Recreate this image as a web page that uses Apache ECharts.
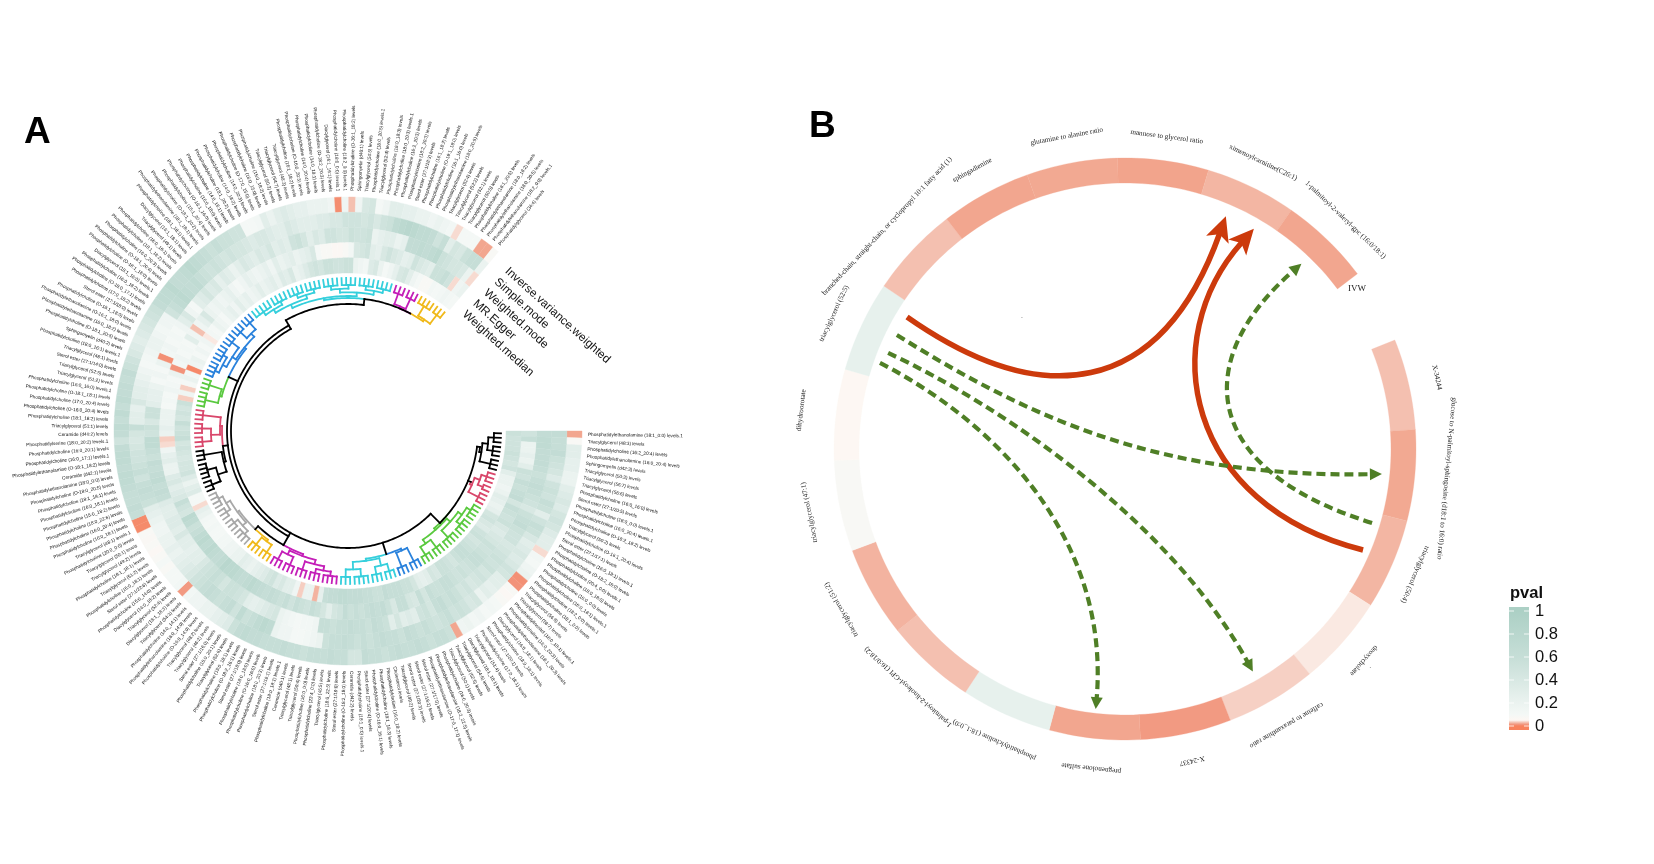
<!DOCTYPE html>
<html><head><meta charset="utf-8">
<style>html,body{margin:0;padding:0;background:#fff}#c{width:1654px;height:864px}</style>
<script src="https://cdn.jsdelivr.net/npm/echarts@6/dist/echarts.min.js"></script>
</head><body><div id="c"></div>
<script>
// ---------- Panel A data: lipid names (clockwise from 3 o'clock) ----------
const lipids = [
"Phosphatidylethanolamine (18:1_0:0) levels.1","Triacylglycerol (48:3) levels","Phosphatidylcholine (16:2_20:4) levels","Phosphatidylethanolamine (16:0_20:4) levels","Sphingomyelin (d42:3) levels","Triacylglycerol (50:3) levels","Triacylglycerol (56:7) levels","Triacylglycerol (56:6) levels","Phosphatidylcholine (16:0_16:0) levels","Sterol ester (27:1/20:5) levels",
"Phosphatidylcholine (18:0_0:0) levels.1","Phosphatidylcholine (16:0_20:4) levels.1","Phosphatidylcholine (O-18:2_18:2) levels","Triacylglycerol (50:2) levels","Phosphatidylcholine (O-16:1_20:4) levels","Sterol ester (27:1/17:1) levels","Phosphatidylcholine (16:0_18:1) levels.1","Phosphatidylcholine (O-18:2_16:0) levels","Phosphatidylcholine (20:4_0:0) levels.1","Phosphatidylcholine (18:0_18:0) levels",
"Phosphatidylcholine (16:0_0:0) levels","Phosphatidylcholine (16:0_18:1) levels.1","Phosphatidylcholine (18:2_0:0) levels.1","Phosphatidylcholine (18:1_0:0) levels","Triacylglycerol (56:8) levels","Triacylglycerol (58:7) levels","Phosphatidylinositol (16:0_18:1) levels.1","Phosphatidylcholine (16:0_20:3) levels","Phosphatidylethanolamine (18:1_20:3) levels","Diacylglycerol (16:0_18:1) levels",
"Phosphatidylcholine (18:0_18:1) levels","Sterol ester (27:1/20:1) levels","Phosphatidylcholine (17:0_18:1) levels","Triacylglycerol (51:4) levels","Diacylglycerol (18:1_18:1) levels","Triacylglycerol (54:6) levels","Triacylglycerol (52:5) levels","Triacylglycerol (50:1) levels","Phosphatidylcholine (16:0_20:3) levels","Phosphatidylethanolamine (18:2_22:5) levels",
"Phosphatidylethanolamine (O-17:0_17:1) levels","Sterol ester (27:1/17:0) levels","Sterol ester (27:1/18:2) levels","Sterol ester (27:1/20:3) levels","Triacylglycerol (49:2) levels","Cholesterol levels","Phosphatidylcholine (16:0_18:2) levels","Phosphatidylcholine (18:1_18:3) levels","Phosphatidylcholine (O-16:0_16:1) levels","Sterol ester (27:1/20:4) levels",
"Phosphatidylcholine (18:1_0:0) levels.1","Ceramide (d42:2) levels","Phosphatidylcholine (O-18:2_18:0) levels","Sterol ester (27:1/19:0) levels","Phosphatidylcholine (18:0_22:5) levels","Triacylglycerol (46:5) levels","Phosphatidylcholine (23:4_0:0) levels","Phosphatidylcholine (16:0_0:0) levels","Triacylglycerol (50:4) levels","Triacylglycerol (48:1) levels",
"Ceramide (d40:1) levels","Phosphatidylcholine (18:0_18:1) levels.1","Sterol ester (27:1/16:1) levels","Phosphatidylcholine (18:0_20:3) levels","Phosphatidylcholine (O-16:0_16:0) levels","Phosphatidylcholine (18:0_18:0) levels","Sterol ester (27:1/18:0) levels","Phosphatidylcholine (O-18:2_16:1) levels","Phosphatidylcholine (15:0_18:1) levels","Triacylglycerol (52:6) levels",
"Phosphatidylcholine (15:0_20:1) levels","Sterol ester (27:1/16:0) levels","Triacylglycerol (46:2) levels","Triacylglycerol (48:2) levels","Phosphatidylcholine (O-16:0_14:0) levels","Phosphatidylethanolamine (18:0_14:0) levels","Phosphatidylcholine (14:0_14:1) levels","Triacylglycerol (54:3) levels","Diacylglycerol (18:1_18:3) levels","Triacylglycerol (52:4) levels",
"Diacylglycerol (14:0_18:2) levels","Phosphatidylcholine (15:0_14:0) levels","Sterol ester (27:1/22:6) levels","Phosphatidylcholine (15:0_18:1) levels","Triacylglycerol (51:2) levels","Phosphatidylcholine (18:1_18:1) levels","Triacylglycerol (49:2) levels","Triacylglycerol (50:1) levels","Phosphatidylcholine (20:0_0:0) levels","Triacylglycerol (48:1) levels.1",
"Phosphatidylcholine (16:0_18:1) levels","Phosphatidylcholine (16:0_20:4) levels","Phosphatidylcholine (18:0_22:6) levels","Phosphatidylcholine (15:0_18:2) levels","Phosphatidylcholine (16:0_18:1) levels","Phosphatidylcholine (18:1_18:1) levels","Phosphatidylcholine (O-18:0_20:5) levels","Phosphatidylethanolamine (18:0_0:0) levels","Ceramide (d42:1) levels","Phosphatidylethanolamine (O-18:1_18:2) levels",
"Phosphatidylcholine (16:0_17:1) levels.1","Phosphatidylcholine (16:0_20:1) levels","Phosphatidylserine (18:0_20:2) levels.1","Ceramide (d40:2) levels","Triacylglycerol (51:1) levels","Phosphatidylcholine (18:1_18:2) levels","Phosphatidylcholine (O-16:0_20:4) levels","Phosphatidylcholine (17:0_20:4) levels","Phosphatidylcholine (O-18:1_18:1) levels","Phosphatidylcholine (16:0_16:0) levels.1",
"Triacylglycerol (51:2) levels","Triacylglycerol (52:5) levels","Sterol ester (27:1/14:0) levels","Triacylglycerol (48:1) levels","Phosphatidylcholine (18:0_16:1) levels.1","Sphingomyelin (d40:2) levels","Phosphatidylcholine (O-18:1_20:5) levels","Phosphatidylethanolamine (16:0_18:2) levels","Phosphatidylethanolamine (O-16:1_18:0) levels","Phosphatidylcholine (O-16:1_18:0) levels",
"Sterol ester (27:1/18:0) levels","Phosphatidylcholine (17:0_18:2) levels","Phosphatidylcholine (O-18:0_17:1) levels","Phosphatidylcholine (16:0_18:2) levels","Diacylglycerol (18:1_16:0) levels.1","Phosphatidylcholine (O-18:1_16:0) levels","Phosphatidylcholine (O-18:1_20:4) levels","Phosphatidylcholine (16:0_20:3) levels","Phosphatidylcholine (18:1_18:2) levels","Phosphatidylcholine (16:0_16:1) levels",
"Triacylglycerol (49:1) levels","Diacylglycerol (16:1_18:1) levels","Phosphatidylcholine (18:1_18:1) levels.1","Phosphatidylethanolamine (18:1_18:1) levels","Phosphatidylcholine (O-18:1_20:2) levels","Phosphatidylcholine (15:1_20:4) levels","Phosphatidylcholine (O-16:1_16:0) levels","Phosphatidylcholine (16:0_18:0) levels","Phosphatidylcholine (14:0_16:1) levels","Phosphatidylcholine (18:1_20:2) levels",
"Phosphatidylcholine (14:0_18:2) levels","Phosphatidylcholine (14:0_20:3) levels","Phosphatidylcholine (O-17:0_15:0) levels","Phosphatidylcholine (16:0_15:0) levels","Phosphatidylcholine (15:0_18:2) levels","Triacylglycerol (50:2) levels","Triacylglycerol (54:7) levels","Triacylglycerol (48:3) levels","Phosphatidylcholine (16:1_18:2) levels","Phosphatidylcholine (O-16:0_20:3) levels",
"Phosphatidylcholine (14:0_20:4) levels","Phosphatidylcholine (14:0_18:1) levels","Phosphatidylcholine (O-18:2_20:3) levels","Diacylglycerol (16:1_16:1) levels","Phosphatidylcholine (18:0_0:0) levels.1","Phosphatidylcholine (18:2_0:0) levels.1","Phosphatidylcholine (O-16:1_18:2) levels","Sphingomyelin (d40:1) levels","Triacylglycerol (54:5) levels","Phosphatidylcholine (18:0_20:5) levels.1",
"Triacylglycerol (52:4) levels","Phosphatidylcholine (16:0_18:3) levels","Phosphatidylcholine (18:0_20:3) levels.1","Phosphatidylcholine (16:2_20:3) levels","Phosphatidylcholine (18:2_20:3) levels","Sterol ester (27:1/18:3) levels","Phosphatidylcholine (16:1_18:2) levels","Phosphatidylcholine (O-16:1_18:0) levels","Phosphatidylcholine (16:1_16:0) levels","Phosphatidylethanolamine (18:0_20:5) levels",
"Triacylglycerol (52:4) levels","Triacylglycerol (52:2) levels","Triacylglycerol (52:1) levels","Triacylglycerol (50:0) levels","Phosphatidylcholine (18:1_20:5) levels","Phosphatidylethanolamine (18:0_18:2) levels","Phosphatidylethanolamine (18:0_20:5) levels","Phosphatidylethanolamine (18:2_0:0) levels.1","Phosphatidylglycerol (34:4) levels"
];
// p values per lipid, outer ring to inner ring
const ivw = [
.02,.08,.3,.3,.25,.25,.2,.2,.3,.35,
.4,.35,.45,.5,.45,.35,.3,.3,.04,.12,
.1,.15,.2,.01,.012,.08,.06,.08,.1,.12,
.1,.15,.12,.18,.15,.02,.55,.6,.6,.55,
.6,.65,.6,.6,.65,.6,.55,.6,.6,.65,
.45,.45,.6,.6,.65,.6,.6,.6,.55,.6,
.6,.65,.6,.6,.6,.65,.65,.7,.65,.55,
.35,.3,.25,.2,.2,.15,.15,.12,.015,.12,
.1,.1,.08,.1,.08,.06,.08,.07,.08,.006,
.006,.6,.65,.6,.6,.65,.7,.7,.65,.7,
.7,.65,.5,.65,.7,.6,.7,.6,.7,.65,
.65,.6,.65,.55,.5,.4,.35,.3,.35,.4,
.45,.5,.55,.65,.7,.7,.75,.65,.65,.7,
.75,.7,.65,.6,.55,.6,.55,.55,.5,.5,
.1,.1,.12,.3,.2,.3,.35,.3,.25,.25,
.2,.2,.2,.15,.008,.15,.03,.15,.4,.45,
.1,.15,.3,.3,.25,.25,.2,.2,.15,.2,
.15,.12,.04,.1,.1,.1,.02,.02,.08];
const simpleMode = [
.65,.6,.6,.65,.55,.5,.45,.35,.5,.55,
.5,.6,.55,.3,.5,.6,.55,.4,.3,.35,
.4,.35,.4,.5,.45,.3,.3,.25,.3,.2,
.45,.4,.5,.55,.5,.6,.55,.5,.55,.6,
.55,.6,.65,.55,.6,.6,.65,.6,.55,.6,
.55,.6,.65,.6,.6,.55,.2,.15,.12,.1,
.1,.15,.15,.2,.7,.75,.7,.6,.55,.7,
.5,.65,.6,.55,.6,.65,.6,.55,.5,.4,
.35,.3,.25,.2,.25,.2,.2,.15,.15,.2,
.25,.3,.55,.6,.65,.6,.5,.6,.55,.5,
.5,.45,.4,.45,.6,.3,.3,.25,.4,.3,
.3,.25,.2,.15,.1,.12,.15,.2,.2,.15,
.12,.15,.15,.5,.6,.7,.75,.7,.65,.7,
.6,.55,.5,.55,.5,.45,.5,.45,.45,.4,
.35,.4,.4,.35,.3,.3,.4,.35,.3,.3,
.3,.35,.35,.4,.4,.5,.5,.5,.45,.5,
.4,.5,.55,.7,.75,.8,.75,.7,.7,.65,
.5,.6,.3,.45,.4,.55,.6,.6,.2];
const weightedMode = [
.65,.7,.7,.65,.65,.65,.6,.55,.6,.65,
.6,.55,.5,.4,.55,.6,.65,.55,.5,.5,
.4,.45,.5,.55,.5,.55,.45,.5,.45,.4,
.5,.45,.55,.6,.55,.65,.6,.45,.55,.5,
.3,.35,.3,.45,.3,.55,.6,.65,.55,.6,
.6,.65,.6,.6,.55,.6,.6,.15,.12,.12,
.1,.12,.15,.2,.45,.4,.35,.3,.25,.3,
.45,.5,.55,.55,.45,.55,.6,.55,.5,.4,
.3,.3,.25,.3,.3,.4,.3,.35,.35,.3,
.3,.35,.6,.65,.6,.7,.65,.6,.65,.55,
.6,.7,.7,.5,.55,.4,.55,.55,.3,.25,
.25,.2,.1,.15,.1,.2,.01,.12,.15,.1,
.12,.1,.15,.3,.4,.15,.1,.3,.35,.45,
.35,.4,.25,.35,.3,.2,.3,.4,.35,.3,
.4,.35,.45,.3,.35,.3,.5,.55,.45,.3,
.4,.35,.5,.5,.45,.45,.55,.5,.5,.55,
.2,.25,.3,.3,.2,.25,.65,.65,.7,.65,
.7,.75,.55,.5,.45,.45,.4,.2,.04];
const mrEgger = [
.5,.6,.2,.2,.25,.2,.3,.55,.5,.6,
.55,.6,.65,.45,.6,.55,.5,.55,.4,.35,
.4,.45,.55,.5,.55,.6,.6,.55,.5,.55,
.5,.55,.6,.6,.55,.55,.6,.45,.6,.4,
.45,.6,.6,.4,.55,.65,.6,.65,.6,.55,
.6,.55,.65,.5,.45,.3,.45,.55,.6,.5,
.55,.6,.5,.6,.55,.6,.65,.6,.65,.7,
.75,.7,.65,.7,.75,.75,.8,.7,.65,.7,
.75,.7,.75,.7,.6,.55,.7,.75,.45,.5,
.6,.4,.35,.3,.4,.35,.2,.2,.3,.25,
.15,.04,.035,.2,.25,.2,.2,.2,.1,.12,
.1,.15,.12,.1,.2,.012,.12,.15,.1,.12,
.1,.3,.15,.03,.15,.25,.4,.2,.15,.2,
.15,.2,.25,.15,.1,.15,.25,.2,.15,.2,
.25,.15,.3,.2,.25,.3,.2,.25,.3,.4,
.1,.08,.08,.06,.06,.08,.12,.4,.45,.5,
.3,.25,.4,.5,.4,.35,.25,.3,.5,.4,
.35,.3,.55,.55,.6,.5,.04,.15,.2];
const weightedMedian = [
.55,.5,.5,.5,.55,.5,.45,.5,.3,.2,
.2,.15,.2,.3,.25,.2,.25,.45,.5,.4,
.35,.5,.55,.45,.5,.55,.6,.6,.55,.45,
.5,.55,.55,.4,.45,.3,.25,.3,.45,.55,
.55,.6,.6,.6,.65,.55,.55,.6,.6,.65,
.65,.65,.7,.7,.65,.65,.6,.25,.025,.2,
.2,.035,.15,.3,.3,.4,.35,.5,.45,.35,
.3,.25,.2,.25,.3,.2,.2,.15,.15,.12,
.12,.1,.1,.12,.1,.12,.2,.25,.04,.1,
.1,.35,.3,.2,.35,.5,.45,.45,.4,.45,
.5,.45,.6,.55,.5,.6,.45,.5,.45,.55,
.035,.15,.035,.1,.2,.12,.005,.15,.2,.1,
.15,.1,.15,.045,.12,.1,.2,.15,.1,.2,
.25,.15,.3,.2,.25,.15,.2,.3,.2,.25,
.3,.2,.35,.3,.4,.2,.25,.35,.45,.5,
.45,.55,.55,.5,.5,.55,.55,.2,.15,.12,
.35,.4,.2,.1,.15,.25,.4,.45,.3,.15,
.1,.08,.08,.12,.1,.12,.15,.12,.1];
const methodNames = ["Inverse.variance.weighted","Simple.mode","Weighted.mode","MR.Egger","Weighted.median"];
// tree clades: colour, tip groups, radius of the clade root, tip position where it joins the backbone
const cladeColors = ["#000000","#d9476b","#5ac93f","#2a82dc","#35cfdc","#c41fb8","#f0b91a","#a8a8a8","#000000","#d9476b","#5ac93f","#2a82dc","#35cfdc","#c41fb8","#f0b91a"];
const cladeGroups = [[3,3,3],[3,2,3],[4,4,4,3,3],[3,3],[3,3,4,3],[4,3,3,3,3],[3,3],[4,3,3,4],[3,4,3],[3,3,3],[4,3],[4,4,3,3,3],[5,4,4,4,4,4,4,4],[3,3],[4,3]];
const cladeRootHeight = [133,133,130,129,129,131,135,135,126,126,131,131,133,133,133];
const cladeJoin = [4,13,22,42,42,69,77,77,100,100,118,118,160,172,172];
// backbone of the tree: arcs [height, tipFrom, tipTo], stems [tip, heightFrom, heightTo]
const backboneArcs = [[130,4,26],[117,26,139],[121,69,139],[131,69,77],[127,139,160],[133,160,172]];
const backboneStems = [[4,130,133],[13,130,133],[26,117,130],[42,117,129],[69,117,131],[77,131,135],[100,121,126],[118,121,131],[139,117,127],[160,127,133]];

// ---------- Panel B data ----------
const metabolites = ["X-34244","glucose to N-palmitoyl-sphingosine (d18:1 to 16:0) ratio","triacylglycerol (50:4)","deoxycholate","caffeine to paraxanthine ratio","X-24337","pregnenolone sulfate","phosphatidylcholine (18:1_0:0)","1-palmitoyl-2-linoleoyl-GPI (16:0/18:2)","triacylglycerol (51:2)","triacylglycerol (47:1)","dihydroorotate","triacylglycerol (52:5)","branched-chain, straight-chain, or cyclopropyl 10:1 fatty acid (1)","sphingadienine","glutamine to alanine ratio","mannose to glycerol ratio","ximenoylcarnitine(C26:1)","1-palmitoyl-2-valeryl-gpc (16:0/18:1)"];
const metabolitePval = [.03,.021,.026,.045,.036,.015,.02,.24,.03,.025,.08,.052,.24,.03,.02,.021,.019,.026,.02];
const metaboliteLabelRadius = [320,323,316,319,320,319,321,319,322,326,322,326,321,326,318,318,315,318,318];
const ivwLabel = "IVW";
const tinyMarks = [[167,13.98],[329,3.51]];
// links on the unit disc of the ring: start, two control points, end
const redLinks = [
 [[-.749,.454],[-.292,.134],[.120,.168],[.343,.790]],
 [[.818,-.347],[.206,-.192],[.103,.375],[.436,.749]]];
const greenLinks = [
 [[-.784,.392],[-.292,.082],[.155,-.100],[.876,-.086]],
 [[-.814,.330],[-.430,.151],[.155,-.244],[.436,-.759]],
 [[-.842,.296],[-.395,.065],[-.052,-.347],[-.100,-.887]],
 [[.849,-.254],[.258,-.072],[.223,.306],[.601,.632]]];
// legend
const legendTicks = [0,.2,.4,.6,.8,1];
const scaleStops = [[0,'#f8825c'],[.012,'#f2937a'],[.02,'#f2a68f'],[.03,'#f4c0b0'],[.04,'#f7dbd1'],[.05,'#fdf7f3'],[.1,'#f4f8f6'],[.6,'#c6ded7'],[1,'#acd0c5']];

// ---------- helpers ----------
function hex(c){return [1,3,5].map(i=>parseInt(c.substr(i,2),16));}
function colorOf(p){
  for(let i=1;i<scaleStops.length;i++){
    if(p<=scaleStops[i][0]){
      const [a,ca]=scaleStops[i-1],[b,cb]=scaleStops[i],t=(p-a)/(b-a),x=hex(ca),y=hex(cb);
      return 'rgb('+x.map((v,k)=>Math.round(v+(y[k]-v)*t)).join(',')+')';
    }
  }
  return scaleStops[scaleStops.length-1][1];
}
const N=lipids.length, A_SPAN=310, A_MAX=N*360/A_SPAN, R_A=234, RING_W=15.2;
const M=metabolites.length, B_SPAN=345, B_MAX=M*360/B_SPAN, B_START=22, R_B=291, B_IN=266;
const rings=[ivw,simpleMode,weightedMode,mrEgger,weightedMedian];
const heatCells=[]; rings.forEach((vals,ri)=>vals.forEach((p,i)=>heatCells.push([ri,i,p])));
const polyArc=(api,r1,r2,a1,a2,n)=>{
  const pts=[];
  for(let k=0;k<=n;k++)pts.push(api.coord([r2,a1+(a2-a1)*k/n]));
  for(let k=n;k>=0;k--)pts.push(api.coord([r1,a1+(a2-a1)*k/n]));
  return pts.map(p=>[p[0],p[1]]);
};
// tree segments in (height, tip position)
const segs=[];
function arc(c,r,a,b){const pts=[];const n=Math.max(1,Math.ceil(Math.abs(b-a)*2));for(let k=0;k<=n;k++)pts.push([r,a+(b-a)*k/n]);segs.push({c,pts});}
function stem(c,a,r1,r2){segs.push({c,pts:[[r1,a],[r2,a]]});}
const COMB=146,TIP=153;
let tipPos=0;
cladeGroups.forEach((groups,ci)=>{
  const c=cladeColors[ci],root=cladeRootHeight[ci];
  const depthOf=n=>n<=1?0:1+depthOf(Math.ceil(n/2));
  const maxD=depthOf(groups.length);
  const rAt=d=>root+2+(COMB-root-2)*d/Math.max(1,maxD);
  function build(list,d){
    if(list.length===1){
      const first=tipPos+.5,last=tipPos+list[0]-.5;
      for(let i=0;i<list[0];i++)stem(c,tipPos+.5+i,COMB,TIP);
      tipPos+=list[0];
      arc(c,COMB,first,last);
      return {a:(first+last)/2,r:COMB};
    }
    const mid=Math.ceil(list.length/2);
    const L=build(list.slice(0,mid),d+1),R=build(list.slice(mid),d+1),r=rAt(d);
    arc(c,r,L.a,R.a);stem(c,L.a,r,L.r);stem(c,R.a,r,R.r);
    return {a:(L.a+R.a)/2,r};
  }
  const top=build(groups,0);
  stem(c,top.a,top.r,root);
  arc(c,root,top.a,cladeJoin[ci]);
});
backboneArcs.forEach(([r,a,b])=>arc('#000',r,a,b));
backboneStems.forEach(([a,r1,r2])=>stem('#000',a,r1,r2));

function linkSeries(links,color,width,dash,headLen,headHalf,notch,ext){
  return {type:'custom',coordinateSystem:'cartesian2d',xAxisIndex:1,yAxisIndex:1,silent:true,clip:false,z:5,
    data:links.map((l,i)=>[l[0][0],l[0][1],i]),
    renderItem(params,api){
      const P=links[params.dataIndex],q=P.map(p=>{const c=api.coord(p);return [c[0],c[1]];});
      let dx=q[3][0]-q[2][0],dy=q[3][1]-q[2][1];const len=Math.hypot(dx,dy);dx/=len;dy/=len;
      const tip=[q[3][0]+dx*ext,q[3][1]+dy*ext],base=[tip[0]-dx*headLen,tip[1]-dy*headLen],nx=-dy,ny=dx;
      return {type:'group',children:[
        {type:'bezierCurve',shape:{x1:q[0][0],y1:q[0][1],cpx1:q[1][0],cpy1:q[1][1],cpx2:q[2][0],cpy2:q[2][1],x2:q[3][0]-dx*headLen*.6,y2:q[3][1]-dy*headLen*.6},
          style:{stroke:color,lineWidth:width,lineDash:dash,fill:null}},
        {type:'polygon',shape:{points:[tip,[base[0]+nx*headHalf,base[1]+ny*headHalf],[base[0]+dx*notch,base[1]+dy*notch],[base[0]-nx*headHalf,base[1]-ny*headHalf]]},style:{fill:color}}
      ]};
    }};
}
const chart=echarts.init(document.getElementById('c'),null,{renderer:'canvas'});
chart.setOption({
  animation:false,backgroundColor:'#fff',
  polar:[{center:[348,431],radius:R_A},{center:[1125,449],radius:R_B}],
  radiusAxis:[{polarIndex:0,min:0,max:R_A,show:false},{polarIndex:1,min:0,max:R_B,show:false}],
  angleAxis:[{polarIndex:0,type:'value',min:0,max:A_MAX,startAngle:0,clockwise:true,show:false},
             {polarIndex:1,type:'value',min:0,max:B_MAX,startAngle:B_START,clockwise:true,show:false}],
  grid:[{left:1509,top:611,width:20,height:115,containLabel:false},
        {left:1125-R_B,top:449-R_B,width:2*R_B,height:2*R_B}],
  xAxis:[{gridIndex:0,type:'value',min:0,max:1,show:false},{gridIndex:1,type:'value',min:-1,max:1,show:false}],
  yAxis:[{gridIndex:0,type:'value',min:0,max:1,interval:.2,position:'right',axisLine:{show:false},axisTick:{show:false},splitLine:{show:false},
          axisLabel:{margin:6,fontSize:16.5,color:'#111',fontFamily:'"Liberation Sans"',formatter:v=>String(+v.toFixed(1))}},
         {gridIndex:1,type:'value',min:-1,max:1,show:false}],
  graphic:[
    {type:'text',left:24,top:114,style:{text:'A',font:'bold 37px "Liberation Sans"',fill:'#000'}},
    {type:'text',left:809,top:108,style:{text:'B',font:'bold 37px "Liberation Sans"',fill:'#000'}},
    {type:'text',left:1510,top:585,style:{text:'pval',font:'bold 16.5px "Liberation Sans"',fill:'#111'}}
  ],
  series:[
    // heat rings
    {type:'custom',coordinateSystem:'polar',polarIndex:0,silent:true,clip:false,data:heatCells,
     renderItem(params,api){
       const ri=api.value(0),i=api.value(1),col=colorOf(api.value(2));
       const r2=R_A-ri*RING_W,r1=r2-RING_W;
       return {type:'polygon',shape:{points:polyArc(api,r1,r2,i,i+1,3)},style:{fill:col,stroke:col,lineWidth:.4}};
     }},
    // tree
    {type:'custom',coordinateSystem:'polar',polarIndex:0,silent:true,clip:false,data:segs.map((s,i)=>[150,i]),
     renderItem(params,api){
       const s=segs[params.dataIndex];
       return {type:'polyline',shape:{points:s.pts.map(p=>{const c=api.coord(p);return [c[0],c[1]];})},style:{stroke:s.c,lineWidth:1.8,fill:null,lineCap:'square'}};
     }},
    // lipid labels
    {type:'custom',coordinateSystem:'polar',polarIndex:0,silent:true,clip:false,data:lipids.map((s,i)=>[240,i+.5]),
     renderItem(params,api){
       const a=api.value(1),c=api.coord([240,a]),deg=a*360/A_MAX,flip=deg>90&&deg<270;
       return {type:'text',x:c[0],y:c[1],rotation:-(flip?deg-180:deg)*Math.PI/180,
         style:{text:lipids[params.dataIndex],font:'4.7px "Liberation Sans"',fill:'#111',align:flip?'right':'left',verticalAlign:'middle'}};
     }},
    // method names
    {type:'custom',coordinateSystem:'polar',polarIndex:0,silent:true,clip:false,data:methodNames.map((s,i)=>[R_A-(i+.5)*RING_W,181.6]),
     renderItem(params,api){
       const c=api.coord([api.value(0),api.value(1)]);
       return {type:'text',x:c[0],y:c[1],rotation:-42*Math.PI/180,
         style:{text:methodNames[params.dataIndex],font:'11.8px "Liberation Sans"',fill:'#111',align:'left',verticalAlign:'middle'}};
     }},
    // panel B ring
    {type:'custom',coordinateSystem:'polar',polarIndex:1,silent:true,clip:false,data:metabolites.map((s,i)=>[i,metabolitePval[i]]),
     renderItem(params,api){
       const i=api.value(0),col=colorOf(api.value(1));
       return {type:'polygon',shape:{points:polyArc(api,B_IN,R_B,i,i+1,14)},style:{fill:col,stroke:col,lineWidth:.3}};
     }},
    // panel B labels
    {type:'custom',coordinateSystem:'polar',polarIndex:1,silent:true,clip:false,data:metabolites.map((s,i)=>[metaboliteLabelRadius[i],i+.5]),
     renderItem(params,api){
       const r=api.value(0),a=api.value(1),c=api.coord([r,a]),deg=B_START-a*360/B_MAX;
       return {type:'text',x:c[0],y:c[1],rotation:(deg-90)*Math.PI/180,
         style:{text:metabolites[params.dataIndex],font:'7.2px "Liberation Serif"',fill:'#222',align:'center',verticalAlign:'middle'}};
     }},
    {type:'custom',coordinateSystem:'polar',polarIndex:1,silent:true,clip:false,data:[[282,19.13]],
     renderItem(params,api){
       const c=api.coord([api.value(0),api.value(1)]);
       return {type:'text',x:c[0],y:c[1],style:{text:ivwLabel,font:'9px "Liberation Serif"',fill:'#222',align:'center',verticalAlign:'middle'}};
     }},
    {type:'custom',coordinateSystem:'polar',polarIndex:1,silent:true,clip:false,data:tinyMarks,
     renderItem(params,api){
       const c=api.coord([api.value(0),api.value(1)]);
       return {type:'text',x:c[0],y:c[1],style:{text:'-',font:'4px "Liberation Serif"',fill:'#555',align:'center',verticalAlign:'middle'}};
     }},
    linkSeries(redLinks,'#cc3a0c',5.5,null,25,12,6,3),
    linkSeries(greenLinks,'#4f7f26',4.2,[9,5],12,6,0,2),
    // legend bar
    {type:'custom',coordinateSystem:'cartesian2d',xAxisIndex:0,yAxisIndex:0,silent:true,clip:false,z:3,data:[[0,1]],
     renderItem(params,api){
       const top=api.coord([0,1]),bot=api.coord([1,0]);
       const pad=4,h=bot[1]-top[1]+2*pad;
       const samples=[1,.8,.6,.4,.2,.1,.05,.04,.03,.02,.012,0];
       const stops=[{offset:0,color:colorOf(1)}].concat(samples.map(v=>({offset:(pad+(1-v)*(bot[1]-top[1]))/h,color:colorOf(v)}))).concat([{offset:1,color:colorOf(0)}]);
       return {type:'rect',shape:{x:top[0],y:top[1]-pad,width:bot[0]-top[0],height:h},
         style:{fill:{type:'linear',x:0,y:0,x2:0,y2:1,colorStops:stops}}};
     }},
    {type:'custom',coordinateSystem:'cartesian2d',xAxisIndex:0,yAxisIndex:0,silent:true,clip:false,z:4,data:legendTicks.map(v=>[0,v]),
     renderItem(params,api){
       const a=api.coord([0,api.value(1)]),b=api.coord([1,api.value(1)]);
       return {type:'group',children:[
         {type:'line',shape:{x1:a[0],y1:a[1],x2:a[0]+5,y2:a[1]},style:{stroke:'#fff',lineWidth:.8}},
         {type:'line',shape:{x1:b[0]-5,y1:b[1],x2:b[0],y2:b[1]},style:{stroke:'#fff',lineWidth:.8}}]};
     }}
  ]
});
</script></body></html>
